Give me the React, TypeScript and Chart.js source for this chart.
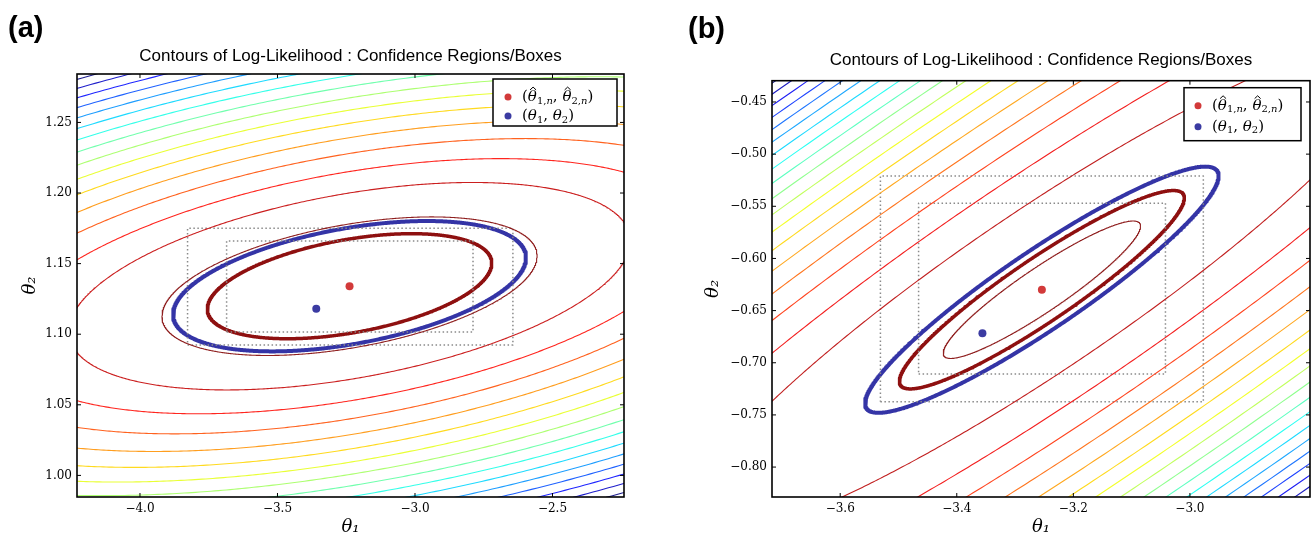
import React, { useEffect, useRef } from "react";
import { Chart, registerables } from "chart.js";
Chart.register(...registerables);

const panelLabels = ["(a)", "(b)"];
const chartTitle = "Contours of Log-Likelihood : Confidence Regions/Boxes";

// ---------- Panel (a) ----------
const xTicksA = [-4.0, -3.5, -3.0, -2.5];
const xTickLabelsA = ["−4.0", "−3.5", "−3.0", "−2.5"];
const yTicksA = [1.0, 1.05, 1.1, 1.15, 1.2, 1.25];
const yTickLabelsA = ["1.00", "1.05", "1.10", "1.15", "1.20", "1.25"];
const xLimA = [-4.229, -2.24];
const yLimA = [0.9847, 1.2843];
const mleA = [-3.238, 1.134];
const trueA = [-3.359, 1.118];
const covA = [0.2673, 0.00842, 0.001384];
const contourLevelsA = [1.74, 3.9, 5.9, 7.9, 9.9, 11.9, 13.9, 15.9, 17.9, 19.9, 21.9, 23.9, 25.9, 27.9, 29.9, 31.9];
const regionLevelsA = [1.0, 1.54];
const outerBoxA = [-3.827, -2.644, 1.0924, 1.175];
const innerBoxA = [-3.685, -2.789, 1.1016, 1.166];

// ---------- Panel (b) ----------
const xTicksB = [-3.6, -3.4, -3.2, -3.0];
const xTickLabelsB = ["−3.6", "−3.4", "−3.2", "−3.0"];
const yTicksB = [-0.8, -0.75, -0.7, -0.65, -0.6, -0.55, -0.5, -0.45];
const yTickLabelsB = ["−0.80", "−0.75", "−0.70", "−0.65", "−0.60", "−0.55", "−0.50", "−0.45"];
const xLimB = [-3.717, -2.794];
const yLimB = [-0.8287, -0.4296];
const mleB = [-3.254, -0.63];
const trueB = [-3.356, -0.6718];
const covB = [0.05973, 0.02149, 0.009044];
const contourLevelsB = [0.48, 6.3, 12.1, 17.9, 23.7, 29.5, 35.3, 41.1, 46.9, 52.7, 58.5, 64.3, 70.1, 75.9, 81.7, 87.5, 93.3, 99.1, 104.9];
const regionLevelsB = [1.0, 1.54];
const outerBoxB = [-3.531, -2.977, -0.7374, -0.521];
const innerBoxB = [-3.4655, -3.042, -0.7108, -0.5471];

function jet(t: number): string {
  const c = (x: number) => Math.max(0, Math.min(1, x));
  const r = c(1.5 - Math.abs(4 * t - 3));
  const g = c(1.5 - Math.abs(4 * t - 2));
  const b = c(1.5 - Math.abs(4 * t - 1));
  const w = 0.12;
  const m = (v: number) => Math.round((v * (1 - w) + w) * 255);
  return `rgb(${m(r)},${m(g)},${m(b)})`;
}

function ellipse(center: number[], cov: number[], q: number, n = 900) {
  const [s11, s12, s22] = cov;
  const l11 = Math.sqrt(s11);
  const l21 = s12 / l11;
  const l22 = Math.sqrt(s22 - l21 * l21);
  const r = Math.sqrt(q);
  const pts: { x: number; y: number }[] = [];
  for (let i = 0; i <= n; i++) {
    const t = (2 * Math.PI * i) / n + 0.5;
    const u = r * Math.cos(t);
    const v = r * Math.sin(t);
    pts.push({ x: center[0] + l11 * u, y: center[1] + l21 * u + l22 * v });
  }
  return pts;
}

function box(b: number[]) {
  return [
    { x: b[0], y: b[2] },
    { x: b[1], y: b[2] },
    { x: b[1], y: b[3] },
    { x: b[0], y: b[3] },
    { x: b[0], y: b[2] },
  ];
}

type Seg = { t: string; s: number; i?: boolean; dy?: number; hat?: boolean };

function drawRich(ctx: CanvasRenderingContext2D, x: number, y: number, segs: Seg[]) {
  let cx = x;
  ctx.textBaseline = "middle";
  ctx.textAlign = "left";
  for (const sg of segs) {
    ctx.font = `${sg.i ? "italic " : ""}${sg.s}px "DejaVu Serif"`;
    ctx.fillText(sg.t, cx, y + (sg.dy || 0));
    const w = ctx.measureText(sg.t).width;
    if (sg.hat) {
      const hx = cx + w * 0.58;
      const hy = y - sg.s * 0.62;
      ctx.save();
      ctx.strokeStyle = "#000";
      ctx.lineWidth = 1;
      ctx.beginPath();
      ctx.moveTo(hx - 3, hy + 2.2);
      ctx.lineTo(hx, hy - 0.6);
      ctx.lineTo(hx + 3, hy + 2.2);
      ctx.stroke();
      ctx.restore();
    }
    cx += w;
  }
}

const legendMle: Seg[] = [
  { t: "(", s: 15 },
  { t: "θ", s: 15, i: true, hat: true },
  { t: "1,", s: 10, dy: 4 },
  { t: "n", s: 10, i: true, dy: 4 },
  { t: ", ", s: 15 },
  { t: "θ", s: 15, i: true, hat: true },
  { t: "2,", s: 10, dy: 4 },
  { t: "n", s: 10, i: true, dy: 4 },
  { t: ")", s: 15 },
];
const legendTrue: Seg[] = [
  { t: "(", s: 15 },
  { t: "θ", s: 15, i: true },
  { t: "1", s: 10, dy: 4 },
  { t: ", ", s: 15 },
  { t: "θ", s: 15, i: true },
  { t: "2", s: 10, dy: 4 },
  { t: ")", s: 15 },
];

type Panel = {
  xTicks: number[];
  xTickLabels: string[];
  yTicks: number[];
  yTickLabels: string[];
  xLim: number[];
  yLim: number[];
  mle: number[];
  truth: number[];
  cov: number[];
  levels: number[];
  regions: number[];
  outer: number[];
  inner: number[];
  yAxisWidth: number;
  padRight: number;
  titleTop: number;
  titleBottom: number;
  yTitlePad: number;
  legend: { w: number; h: number; right: number; top: number; r1: number; r2: number; dotX: number; textX: number };
};

const panels: Panel[] = [
  {
    xTicks: xTicksA, xTickLabels: xTickLabelsA, yTicks: yTicksA, yTickLabels: yTickLabelsA,
    xLim: xLimA, yLim: yLimA, mle: mleA, truth: trueA, cov: covA, levels: contourLevelsA,
    regions: regionLevelsA, outer: outerBoxA, inner: innerBoxA,
    yAxisWidth: 77, padRight: 36, titleTop: 46, titleBottom: 7.6, yTitlePad: 20,
    legend: { w: 124, h: 47, right: 7, top: 5, r1: 18, r2: 37, dotX: 15, textX: 29 },
  },
  {
    xTicks: xTicksB, xTickLabels: xTickLabelsB, yTicks: yTicksB, yTickLabels: yTickLabelsB,
    xLim: xLimB, yLim: yLimB, mle: mleB, truth: trueB, cov: covB, levels: contourLevelsB,
    regions: regionLevelsB, outer: outerBoxB, inner: innerBoxB,
    yAxisWidth: 112, padRight: 6, titleTop: 50, titleBottom: 10.3, yTitlePad: 43,
    legend: { w: 117, h: 53, right: 9, top: 7, r1: 18, r2: 39, dotX: 14, textX: 28 },
  },
];

function buildConfig(p: Panel): any {
  const n = p.levels.length;
  const datasets: any[] = [];
  const lineBase = {
    showLine: true,
    pointRadius: 0,
    fill: false,
    borderJoinStyle: "round",
    borderCapStyle: "round",
  };
  p.levels.forEach((q, i) => {
    datasets.push({
      ...lineBase,
      data: ellipse(p.mle, p.cov, q),
      borderColor: jet(1 - i / (n - 1)),
      borderWidth: 1.1,
    });
  });
  [p.outer, p.inner].forEach((b) => {
    datasets.push({
      ...lineBase,
      data: box(b),
      borderColor: "#8a8a8a",
      borderWidth: 1.5,
      borderDash: [1.5, 2.5],
      borderCapStyle: "butt",
    });
  });
  datasets.push({
    ...lineBase,
    data: ellipse(p.mle, p.cov, p.regions[0]),
    borderColor: "#8e1010",
    borderWidth: 3.5,
  });
  datasets.push({
    ...lineBase,
    data: ellipse(p.mle, p.cov, p.regions[1]),
    borderColor: "#3434a6",
    borderWidth: 4,
  });
  datasets.push({
    data: [{ x: p.mle[0], y: p.mle[1] }],
    pointRadius: 4,
    pointBackgroundColor: "#d23a3a",
    pointBorderWidth: 0,
    showLine: false,
  });
  datasets.push({
    data: [{ x: p.truth[0], y: p.truth[1] }],
    pointRadius: 4,
    pointBackgroundColor: "#3b3ba2",
    pointBorderWidth: 0,
    showLine: false,
  });

  const deco = {
    id: "deco",
    afterDraw(chart: any) {
      const { ctx, chartArea: a, scales } = chart;
      ctx.save();
      ctx.strokeStyle = "#000";
      ctx.lineWidth = 1;
      const tl = 4;
      p.xTicks.forEach((v) => {
        const x = scales.x.getPixelForValue(v);
        ctx.beginPath();
        ctx.moveTo(x, a.bottom);
        ctx.lineTo(x, a.bottom - tl);
        ctx.moveTo(x, a.top);
        ctx.lineTo(x, a.top + tl);
        ctx.stroke();
      });
      p.yTicks.forEach((v) => {
        const y = scales.y.getPixelForValue(v);
        ctx.beginPath();
        ctx.moveTo(a.left, y);
        ctx.lineTo(a.left + tl, y);
        ctx.moveTo(a.right, y);
        ctx.lineTo(a.right - tl, y);
        ctx.stroke();
      });
      ctx.lineWidth = 1.6;
      ctx.strokeRect(a.left, a.top, a.right - a.left, a.bottom - a.top);
      const L = p.legend;
      const lx = a.right - L.right - L.w;
      const ly = a.top + L.top;
      ctx.fillStyle = "#fff";
      ctx.fillRect(lx, ly, L.w, L.h);
      ctx.lineWidth = 1.5;
      ctx.strokeStyle = "#000";
      ctx.strokeRect(lx, ly, L.w, L.h);
      ctx.fillStyle = "#d23a3a";
      ctx.beginPath();
      ctx.arc(lx + L.dotX, ly + L.r1, 3.5, 0, Math.PI * 2);
      ctx.fill();
      ctx.fillStyle = "#3b3ba2";
      ctx.beginPath();
      ctx.arc(lx + L.dotX, ly + L.r2, 3.5, 0, Math.PI * 2);
      ctx.fill();
      ctx.fillStyle = "#000";
      drawRich(ctx, lx + L.textX, ly + L.r1, legendMle);
      drawRich(ctx, lx + L.textX, ly + L.r2, legendTrue);
      ctx.restore();
    },
  };

  return {
    type: "scatter",
    data: { datasets },
    options: {
      animation: false,
      responsive: false,
      devicePixelRatio: 1,
      events: [],
      layout: { padding: { left: 0, right: p.padRight, top: 0, bottom: 0 } },
      plugins: {
        legend: { display: false },
        tooltip: { enabled: false },
        title: {
          display: true,
          fullSize: false,
          text: chartTitle,
          color: "#000",
          font: { family: "Liberation Sans", size: 17, weight: "normal", lineHeight: 1.2 },
          padding: { top: p.titleTop, bottom: p.titleBottom },
        },
      },
      scales: {
        x: {
          type: "linear",
          min: p.xLim[0],
          max: p.xLim[1],
          afterFit: (s: any) => {
            s.height = 42;
          },
          afterBuildTicks: (s: any) => {
            s.ticks = p.xTicks.map((v) => ({ value: v }));
          },
          ticks: {
            callback: (_v: any, i: number) => p.xTickLabels[i],
            color: "#000",
            font: { family: "DejaVu Serif", size: 12 },
            padding: 5,
            autoSkip: false,
            maxRotation: 0,
          },
          grid: { display: false, drawTicks: false },
          border: { display: false },
          title: {
            display: true,
            text: "θ₁",
            color: "#000",
            font: { family: "DejaVu Serif", size: 18, style: "italic", lineHeight: 1.2 },
            padding: { top: 0, bottom: 1 },
          },
        },
        y: {
          type: "linear",
          min: p.yLim[0],
          max: p.yLim[1],
          afterFit: (s: any) => {
            s.width = p.yAxisWidth;
          },
          afterBuildTicks: (s: any) => {
            s.ticks = p.yTicks.map((v) => ({ value: v }));
          },
          ticks: {
            callback: (_v: any, i: number) => p.yTickLabels[i],
            color: "#000",
            font: { family: "DejaVu Serif", size: 12 },
            padding: 5,
            autoSkip: false,
          },
          grid: { display: false, drawTicks: false },
          border: { display: false },
          title: {
            display: true,
            text: "θ₂",
            color: "#000",
            font: { family: "DejaVu Serif", size: 18, style: "italic", lineHeight: 1.2 },
            padding: { top: p.yTitlePad, bottom: 0 },
          },
        },
      },
    },
    plugins: [deco],
  };
}

function PanelChart({ p, left, width }: { p: Panel; left: number; width: number }) {
  const ref = useRef<HTMLCanvasElement>(null);
  useEffect(() => {
    if (!ref.current) return;
    const chart = new Chart(ref.current, buildConfig(p));
    return () => chart.destroy();
  }, [p]);
  return (
    <canvas
      ref={ref}
      width={width}
      height={539}
      style={{ position: "absolute", left, top: 0, width, height: 539 }}
    />
  );
}

export default function App() {
  const labelStyle: React.CSSProperties = {
    position: "absolute",
    fontFamily: "Liberation Sans, Arial, sans-serif",
    fontWeight: "bold",
    fontSize: 29,
    lineHeight: "32px",
    color: "#000",
  };
  return (
    <div style={{ position: "absolute", left: 0, top: 0, width: 1316, height: 539, background: "#fff", overflow: "hidden" }}>
      <PanelChart p={panels[0]} left={0} width={660} />
      <PanelChart p={panels[1]} left={660} width={656} />
      <div style={{ ...labelStyle, left: 8, top: 11 }}>{panelLabels[0]}</div>
      <div style={{ ...labelStyle, left: 688, top: 12 }}>{panelLabels[1]}</div>
    </div>
  );
}
